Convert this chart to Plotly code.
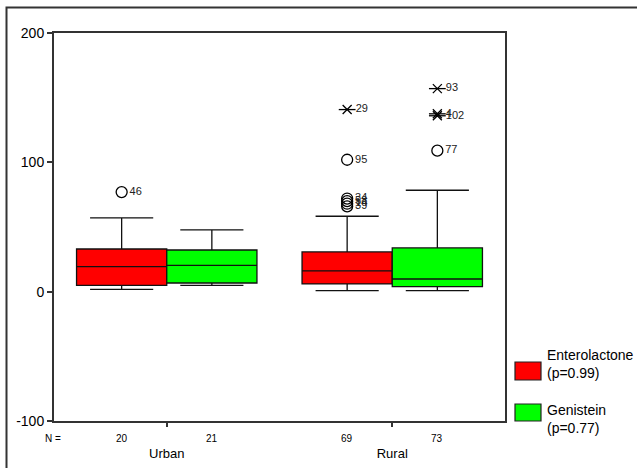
import plotly.graph_objects as go

# ---- data ----
categories = ["Urban", "Rural"]
n_entero = [20, 69]
n_genis = [21, 73]

# box statistics per category: [lowerfence, q1, median, q3, upperfence]
entero_lower = [1.8, 0.8]
entero_q1 = [4.9, 6.0]
entero_med = [19.3, 16.0]
entero_q3 = [33.0, 30.7]
entero_upper = [57.0, 58.3]

genis_lower = [4.9, 0.8]
genis_q1 = [6.7, 3.9]
genis_med = [20.4, 9.8]
genis_q3 = [32.2, 33.8]
genis_upper = [47.7, 78.4]

# outliers: (category index, value, case label)
entero_circles = [(0, 77.0, "46"), (1, 102.0, "95"), (1, 72.0, "34"), (1, 70.0, "58"),
                  (1, 68.0, "14"), (1, 66.0, "39")]
entero_extremes = [(1, 140.8, "29")]
genis_circles = [(1, 109.0, "77")]
genis_extremes = [(1, 157.0, "93"), (1, 137.5, "4"), (1, 136.0, "102")]

y_ticks = [-100, 0, 100, 200]
y_ticktext = ["-100", "0", "100", "200"]

legend_labels = ["Enterolactone<br>(p=0.99)", "Genistein<br>(p=0.77)"]
colors = ["#ff0000", "#00ff00"]

FONT = "Arial, 'Liberation Sans', sans-serif"
offset = 0.2
bw = 0.4

fig = go.Figure()

def add_box(xpos, lower, q1, med, q3, upper, color, name):
    fig.add_trace(go.Box(
        x=xpos, lowerfence=lower, q1=q1, median=med, q3=q3, upperfence=upper,
        width=bw, whiskerwidth=0.7, fillcolor=color,
        line=dict(color="#111111", width=1.3), boxpoints=False,
        name=name, showlegend=False, hoverinfo="skip"))

idx = list(range(len(categories)))
add_box([i - offset for i in idx], entero_lower, entero_q1, entero_med, entero_q3,
        entero_upper, colors[0], "Enterolactone")
add_box([i + offset for i in idx], genis_lower, genis_q1, genis_med, genis_q3,
        genis_upper, colors[1], "Genistein")

def add_points(pts, off, symbol, size, with_text=True):
    fig.add_trace(go.Scatter(
        x=[p[0] + off for p in pts], y=[p[1] for p in pts],
        text=[p[2] for p in pts] if with_text else None,
        mode="markers+text" if with_text else "markers", textposition="middle right",
        textfont=dict(family=FONT, size=11, color="#222222"),
        marker=dict(symbol=symbol, size=size, color="black",
                    line=dict(color="black", width=1.3)),
        showlegend=False, hoverinfo="skip"))

add_points(entero_circles, -offset, "circle-open", 11)
# SPSS-style asterisk: an x plus a horizontal bar
add_points(entero_extremes, -offset, "x-thin-open", 9, with_text=False)
add_points(entero_extremes, -offset, "line-ew-open", 12)
add_points(genis_circles, offset, "circle-open", 11)
add_points(genis_extremes, offset, "x-thin-open", 9, with_text=False)
add_points(genis_extremes, offset, "line-ew-open", 12)

# pixel -> paper helpers
PW, PH = 451.0, 388.0
def px(x): return (x - 54) / PW
def py(y): return (421 - y) / PH

# N row
annotations = [dict(x=px(53), y=0, xref="paper", yref="paper", text="N =", showarrow=False,
                    xanchor="center", yanchor="middle", yshift=-17,
                    font=dict(family=FONT, size=10, color="black"))]
for i in idx:
    for off, n in ((-offset, n_entero[i]), (offset, n_genis[i])):
        annotations.append(dict(x=i + off, y=0, xref="x", yref="paper", text=str(n),
                                showarrow=False, yanchor="middle", yshift=-17,
                                font=dict(family=FONT, size=10, color="black")))

# custom legend
shapes = []
leg_boxes = [(362, 380), (404, 421)]
leg_text_y = [363.5, 418.5]
for k in range(2):
    t, b = leg_boxes[k]
    shapes.append(dict(type="rect", xref="paper", yref="paper", x0=px(515), x1=px(541),
                       y0=py(b), y1=py(t), fillcolor=colors[k],
                       line=dict(color="#222222", width=1.2)))
    annotations.append(dict(x=px(545), y=py(leg_text_y[k]), xref="paper", yref="paper",
                            text=legend_labels[k], showarrow=False, align="left",
                            xanchor="left", yanchor="middle",
                            font=dict(family=FONT, size=14, color="black")))

# outer frame
shapes.append(dict(type="rect", xref="paper", yref="paper", x0=px(6.5), y1=py(7.5),
                   x1=px(700), y0=py(520), line=dict(color="#333333", width=2),
                   fillcolor="rgba(0,0,0,0)"))

fig.update_layout(
    width=637, height=468,
    margin=dict(l=54, r=132, t=33, b=47),
    paper_bgcolor="white", plot_bgcolor="white",
    font=dict(family=FONT, size=14, color="black"),
    shapes=shapes, annotations=annotations,
    xaxis=dict(range=[-0.5, 1.5], tickvals=idx, ticktext=categories,
               ticks="outside", ticklen=4, tickwidth=1.5, tickcolor="#333333",
               showline=True, linecolor="#333333", linewidth=2, mirror=True,
               showgrid=False, zeroline=False, ticklabelstandoff=15, automargin=False,
               tickfont=dict(family=FONT, size=13)),
    yaxis=dict(range=[-100, 200], tickvals=y_ticks, ticktext=y_ticktext,
               ticks="outside", ticklen=5, tickwidth=1.5, tickcolor="#333333",
               showline=True, linecolor="#333333", linewidth=2, mirror=True,
               showgrid=False, zeroline=False, automargin=False,
               tickfont=dict(family=FONT, size=14)),
)

fig.write_html("out.html")
